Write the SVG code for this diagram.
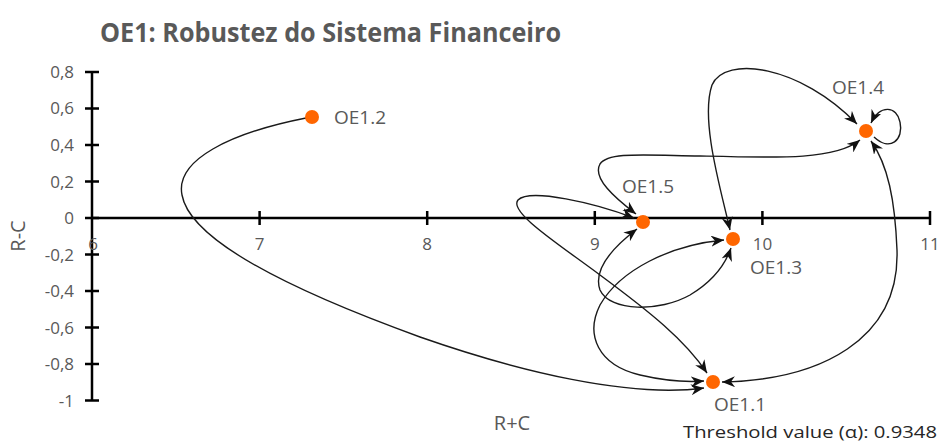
<svg xmlns="http://www.w3.org/2000/svg" width="943" height="444" viewBox="0 0 943 444">
<defs>
<marker id="arr" viewBox="0 0 13 11" refX="13" refY="5.5" markerWidth="13" markerHeight="11" markerUnits="userSpaceOnUse" orient="auto-start-reverse">
<path d="M0,0 L13,5.5 L0,11 L4,5.5 Z" fill="#111"/>
</marker>
</defs>
<style>
.t{font-family:"Open Sans","Liberation Sans",sans-serif;fill:#595959}
.tick{font-size:17px}
.lbl{font-size:19px}
.ax{stroke:#000;stroke-width:2.5;fill:none}
.e{stroke:#1a1a1a;stroke-width:1.4;fill:none}
.n{fill:#FF6600}
</style>
<rect width="943" height="444" fill="#fff"/>
<text class="t" x="100" y="42" font-size="26" font-weight="bold" textLength="461" lengthAdjust="spacingAndGlyphs">OE1: Robustez do Sistema Financeiro</text>
<g id="axes">
<path class="ax" d="M92 72 V401 M92 218 H930"/>
<path class="ax" d="M85 72 H99 M85 108.4 H99 M85 145 H99 M85 181.5 H99 M85 254.5 H99 M85 291 H99 M85 327.6 H99 M85 364.1 H99 M85 400.6 H99 M85 218 H99"/>
<path class="ax" d="M259.6 211 V225 M427.2 211 V225 M594.8 211 V225 M762.4 211 V225 M930 211 V225"/>
<g class="t tick" text-anchor="end">
<text x="74" y="78">0,8</text>
<text x="74" y="114.4">0,6</text>
<text x="74" y="151">0,4</text>
<text x="74" y="187.5">0,2</text>
<text x="74" y="224">0</text>
<text x="74" y="260.5">-0,2</text>
<text x="74" y="297">-0,4</text>
<text x="74" y="333.6">-0,6</text>
<text x="74" y="370.1">-0,8</text>
<text x="74" y="406.6">-1</text>
</g>
<g class="t tick" text-anchor="middle">
<text x="93" y="250">6</text>
<text x="259.6" y="250">7</text>
<text x="427.2" y="250">8</text>
<text x="594.8" y="250">9</text>
<text x="762.4" y="250">10</text>
<text x="930" y="250">11</text>
</g>
<text class="t" x="512" y="430" font-size="20" text-anchor="middle">R+C</text>
<text class="t" transform="translate(25 236) rotate(-90)" font-size="20" text-anchor="middle">R-C</text>
</g>
<g id="connectors">
<path class="e" marker-end="url(#arr)" d="M306 118 C230 133 175 160 182 195 C190 240 290 290 420 337 C520 372 630 398 704 388"/>
<path class="e" marker-start="url(#arr)" marker-end="url(#arr)" d="M636 214 C615 198 592 178 600 164 C608 152 640 155 700 156 C780 158 835 160 860 140"/>
<path class="e" marker-start="url(#arr)" marker-end="url(#arr)" d="M730 230 C721 190 700 120 712 85 C725 55 800 65 857 124"/>
<path class="e" marker-start="url(#arr)" marker-end="url(#arr)" d="M722 382 C820 380 900 340 897 250 C895 200 888 165 871 141"/>
<path class="e" marker-start="url(#arr)" marker-end="url(#arr)" d="M634 218 C595 203 530 188 518 200 C508 212 560 245 600 275 C650 312 685 340 707 373"/>
<path class="e" marker-start="url(#arr)" marker-end="url(#arr)" d="M637 229 C612 248 593 270 600 290 C610 312 660 312 690 295 C710 283 724 268 731 248"/>
<path class="e" marker-start="url(#arr)" marker-end="url(#arr)" d="M724 240 C670 245 620 270 600 305 C585 335 598 365 640 375 C670 382 690 382 704 381"/>
<path class="e" marker-end="url(#arr)" d="M874 137 C890 152 904 140 900 122 C897 106 880 104 871 123"/>
</g>
<g id="OE1.1"><circle class="n" cx="713" cy="382" r="7"/><text class="t lbl" x="714" y="411">OE1.1</text></g>
<g id="OE1.2"><circle class="n" cx="312" cy="117" r="7"/><text class="t lbl" x="334" y="124">OE1.2</text></g>
<g id="OE1.3"><circle class="n" cx="733" cy="239" r="7"/><text class="t lbl" x="750" y="274">OE1.3</text></g>
<g id="OE1.4"><circle class="n" cx="866" cy="131" r="7"/><text class="t lbl" x="832" y="94">OE1.4</text></g>
<g id="OE1.5"><circle class="n" cx="643" cy="222" r="7"/><text class="t lbl" x="622" y="193">OE1.5</text></g>
<text x="683" y="438" font-family="Open Sans, Liberation Sans, sans-serif" font-size="17" fill="#262626" textLength="254" lengthAdjust="spacingAndGlyphs">Threshold value (α):  0.9348</text>
</svg>
